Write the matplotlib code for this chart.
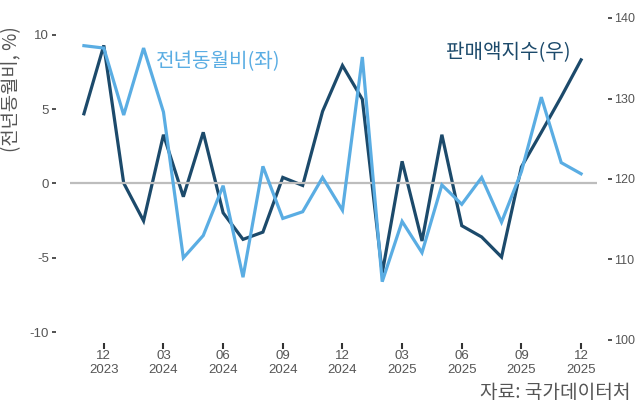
import numpy as np
import matplotlib.pyplot as plt

plt.rcParams['font.family'] = ['Liberation Sans', 'Noto Sans CJK KR', 'DejaVu Sans']

# months from 2023-11 to 2025-12
months = ['2023-11', '2023-12', '2024-01', '2024-02', '2024-03', '2024-04', '2024-05',
          '2024-06', '2024-07', '2024-08', '2024-09', '2024-10', '2024-11', '2024-12',
          '2025-01', '2025-02', '2025-03', '2025-04', '2025-05', '2025-06', '2025-07',
          '2025-08', '2025-09', '2025-10', '2025-11', '2025-12']

# 전년동월비 (%), left axis
yoy = [9.26, 9.1, 4.6, 9.1, 4.8, -5.0, -3.5, -0.15, -6.3, 1.15, -2.35, -1.9, 0.4,
       -1.8, 8.5, -6.6, -2.55, -4.65, -0.1, -1.4, 0.4, -2.6, 0.8, 5.8, 1.4, 0.65]

# 판매액지수, right axis
index = [128.1, 136.6, 119.5, 114.8, 125.5, 117.8, 125.8, 115.8, 112.5, 113.4, 120.2,
         119.2, 128.4, 134.1, 129.9, 108.3, 122.2, 112.3, 125.5, 114.2, 112.8, 110.3,
         121.5, 125.8, 130.2, 134.8]

tick_pos = [1, 4, 7, 10, 13, 16, 19, 22, 25]
tick_labels = ['12\n2023', '03\n2024', '06\n2024', '09\n2024', '12\n2024',
               '03\n2025', '06\n2025', '09\n2025', '12\n2025']

light = '#5AADE3'
dark = '#1C4A6B'
grey = '#555555'
kr = ['Noto Sans CJK KR', 'DejaVu Sans']

W, H = 636, 407
fig = plt.figure(figsize=(W / 100, H / 100), dpi=100)
ax = fig.add_axes([70 / W, 1 - 340 / H, (597 - 70) / W, (340 - 18) / H])
ax2 = ax.twinx()

x = np.arange(len(months))

ax.axhline(0, color='#BDBDBD', lw=1.6, zorder=1)
ax2.plot(x, index, color=dark, lw=2.3, solid_joinstyle='miter', zorder=2)
ax.plot(x, yoy, color=light, lw=2.3, solid_joinstyle='miter', zorder=3)
ax.set_zorder(ax2.get_zorder() + 1)
ax.patch.set_visible(False)

ax.set_xlim(-0.7, 25.8)
ax.set_ylim(-10.52, 11.12)
ax2.set_ylim(100, 140)

ax.set_yticks([-10, -5, 0, 5, 10])
ax.set_yticklabels(['-10', '-5', '0', '5', '10'])
ax2.set_yticks([100, 110, 120, 130, 140])
ax.set_xticks(tick_pos)
ax.set_xticklabels(tick_labels, linespacing=1.0)

for a in (ax, ax2):
    for s in a.spines.values():
        s.set_visible(False)

ax.spines['left'].set_position(('outward', 10))
ax2.spines['right'].set_position(('outward', 8))
ax.spines['bottom'].set_position(('outward', 2))

ax.tick_params(axis='y', length=3, width=1.2, color='#333333', labelsize=9.5,
               labelcolor=grey, pad=2)
ax2.tick_params(axis='y', length=3, width=1.2, color='#333333', labelsize=9,
                labelcolor=grey, pad=1.5)
ax.tick_params(axis='x', length=4, width=1.5, color='#333333', labelsize=9.5,
               labelcolor=grey, pad=1)

fig.text(12 / W, 1 - 89 / H, '(전년동월비, %)', rotation=90, ha='center', va='center',
         color=grey, fontsize=13.5, family=kr)

ax.text(0.163, 0.863, '전년동월비(좌)', transform=ax.transAxes, color=light,
        fontsize=14.5, ha='left', va='center', family=kr)
ax.text(0.95, 0.894, '판매액지수(우)', transform=ax.transAxes, color=dark,
        fontsize=14.5, ha='right', va='center', family=kr)

fig.text(630 / W, 1 - 393 / H, '자료: 국가데이터처', ha='right', va='center',
         color=grey, fontsize=13.8, family=kr)

fig.savefig('out.png', dpi=100)
